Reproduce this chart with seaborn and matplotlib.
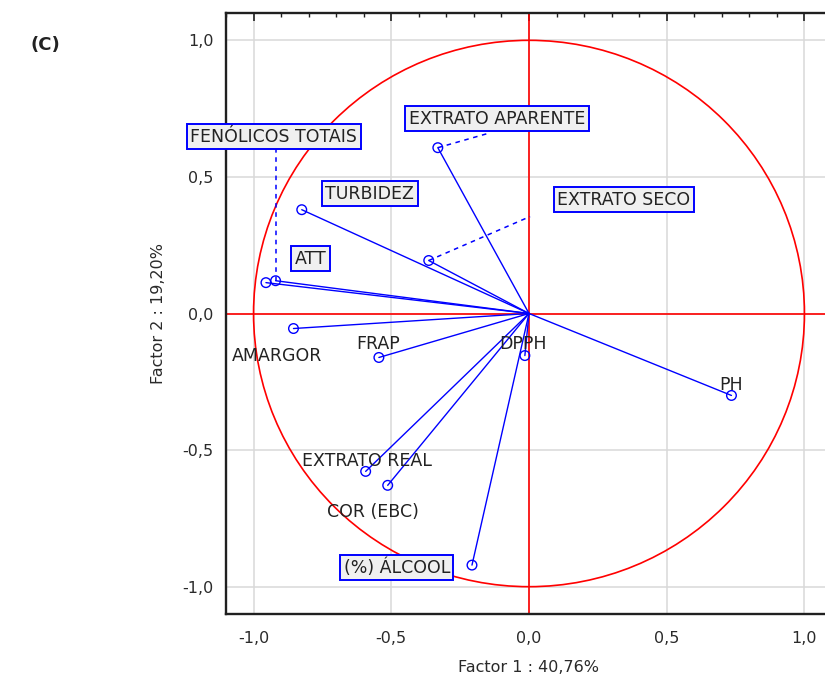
import numpy as np
import pandas as pd
import seaborn as sns
import matplotlib.pyplot as plt
from matplotlib.patches import Circle
from matplotlib.ticker import MultipleLocator, FuncFormatter

# loadings of each variable on the first two factors
variables = ['FENÓLICOS TOTAIS', 'ATT', 'EXTRATO APARENTE', 'TURBIDEZ',
             'EXTRATO SECO', 'AMARGOR', 'FRAP', 'DPPH', 'PH',
             'EXTRATO REAL', 'COR (EBC)', '(%) ÁLCOOL']
factor1 = [-0.92, -0.955, -0.331, -0.825, -0.364, -0.855, -0.545, -0.015,
           0.735, -0.593, -0.513, -0.207]
factor2 = [0.12, 0.113, 0.607, 0.38, 0.194, -0.055, -0.161, -0.154,
           -0.30, -0.578, -0.629, -0.921]

xlabel = 'Factor 1 : 40,76%'
ylabel = 'Factor 2 : 19,20%'

df = pd.DataFrame({'var': variables, 'f1': factor1, 'f2': factor2})

sns.set_style('white')
plt.rcParams['font.family'] = ['DejaVu Sans']

fig = plt.figure(figsize=(8.25, 6.88), dpi=100)
ax = fig.add_axes([226 / 825, 74 / 688, (832 - 226) / 825, 601 / 688])

ax.set_xlim(-1.1, 1.1)
ax.set_ylim(-1.1, 1.1)

ax.grid(True, which='major', color='#d9d9d9', lw=1.1, zorder=0)
ax.set_axisbelow(True)

# unit circle and axes through origin
ax.add_patch(Circle((0, 0), 1.0, fill=False, ec='#ff0000', lw=1.2, zorder=1))
ax.axhline(0, color='#ff0000', lw=1.2, zorder=1)
ax.axvline(0, color='#ff0000', lw=1.2, zorder=1)

for _, r in df.iterrows():
    ax.plot([0, r['f1']], [0, r['f2']], color='#0000ff', lw=1.0, zorder=2)

sns.scatterplot(data=df, x='f1', y='f2', ax=ax, marker='o', s=48,
                facecolor='none', edgecolor='#0000ff', linewidth=1.0,
                zorder=3, legend=False)

# label placement (layout only)
label_pos = {
    'FENÓLICOS TOTAIS': (-0.927, 0.647),
    'ATT': (-0.793, 0.201),
    'EXTRATO APARENTE': (-0.116, 0.713),
    'TURBIDEZ': (-0.578, 0.439),
    'EXTRATO SECO': (0.345, 0.417),
    'AMARGOR': (-0.913, -0.157),
    'FRAP': (-0.549, -0.113),
    'DPPH': (-0.022, -0.113),
    'PH': (0.735, -0.262),
    'EXTRATO REAL': (-0.589, -0.541),
    'COR (EBC)': (-0.567, -0.728),
    '(%) ÁLCOOL': (-0.48, -0.929),
}
boxed = ['FENÓLICOS TOTAIS', 'ATT', 'EXTRATO APARENTE', 'TURBIDEZ',
         'EXTRATO SECO', '(%) ÁLCOOL']
leaders = {
    'FENÓLICOS TOTAIS': (-0.92, 0.605),
    'EXTRATO APARENTE': (-0.153, 0.658),
    'EXTRATO SECO': (0.004, 0.355),
}

for _, r in df.iterrows():
    name = r['var']
    if name in leaders:
        lx, ly = leaders[name]
        ax.plot([r['f1'], lx], [r['f2'], ly], color='#0000ff', lw=1.1,
                ls=(0, (3, 3)), zorder=2)
    tx, ty = label_pos[name]
    bbox = None
    if name in boxed:
        bbox = dict(boxstyle='square,pad=0.2', fc='#f0f0f0', ec='#0000ff', lw=1.4)
    ax.text(tx, ty, name, ha='center', va='center', fontsize=12.5,
            color='#222222', bbox=bbox, zorder=4)

comma = FuncFormatter(lambda v, p: ('%.1f' % v).replace('.', ','))
for axis in (ax.xaxis, ax.yaxis):
    axis.set_major_locator(MultipleLocator(0.5))
    axis.set_minor_locator(MultipleLocator(0.1))
    axis.set_major_formatter(comma)

ax.tick_params(which='both', direction='in', top=True, right=False,
               color='#202020', labelsize=11.5, labelcolor='#2a2a2a')
ax.tick_params(which='major', length=6, width=1.2)
ax.tick_params(which='minor', length=3, width=1.0)
ax.tick_params(axis='x', pad=12)
ax.tick_params(axis='y', pad=9)

for sp in ax.spines.values():
    sp.set_color('#202020')
    sp.set_linewidth(1.7)

ax.set_xlabel(xlabel, fontsize=11.5, color='#2a2a2a', labelpad=10)
ax.set_ylabel(ylabel, fontsize=11.5, color='#2a2a2a', labelpad=12)

fig.text(30 / 825, 1 - 45 / 688, '(C)', fontsize=13, fontweight='bold',
         va='center', ha='left', color='#222222')

fig.savefig('out.png', dpi=100)
